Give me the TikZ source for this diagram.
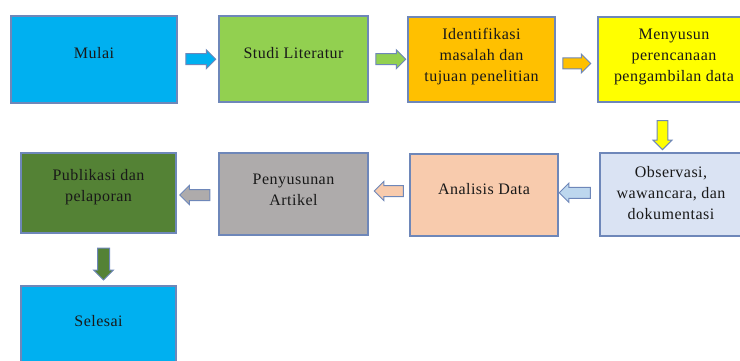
\documentclass[tikz,border=0pt]{standalone}
\usepackage{fontspec}
\setmainfont{Liberation Serif}[LetterSpace=3]
\usetikzlibrary{shapes.arrows,calc}
\definecolor{bordc}{HTML}{6E87B9}
\definecolor{cCyan}{HTML}{00B0F0}
\definecolor{cGreen}{HTML}{92D050}
\definecolor{cOrange}{HTML}{FFC000}
\definecolor{cYellow}{HTML}{FFFF00}
\definecolor{cLBlue}{HTML}{DAE3F3}
\definecolor{cLBlueA}{HTML}{BDD7EE}
\definecolor{cPeach}{HTML}{F8CBAD}
\definecolor{cGray}{HTML}{AEABAB}
\definecolor{cDGreen}{HTML}{548235}
\begin{document}
\begin{tikzpicture}[x=1pt,y=-1pt,
  box/.style={draw=bordc,line width=1.2pt,inner sep=0pt,outer sep=0pt},
  txt/.style={align=center,font=\fontsize{16}{21}\selectfont,text=black!90,inner sep=0pt},
  sarrow/.style={single arrow,draw=bordc,line width=1pt,minimum height=30pt,
    minimum width=18pt,single arrow head extend=4pt,inner sep=5pt,outer sep=0pt}]
\useasboundingbox (0,0) rectangle (740,361);
\clip (0,0) rectangle (740,361);
% boxes
\node[box,fill=cCyan,minimum width=166pt,minimum height=87pt] (m1) at (94,59.5) {};
\node[box,fill=cGreen,minimum width=149pt,minimum height=86pt] (m2) at (293.5,59) {};
\node[box,fill=cOrange,minimum width=147pt,minimum height=85pt] (m3) at (481.5,59.5) {};
\node[box,fill=cYellow,minimum width=148pt,minimum height=85pt] (m4) at (672,59.5) {};
\node[box,fill=cLBlue,minimum width=148pt,minimum height=83pt] (m5) at (674,194.5) {};
\node[box,fill=cPeach,minimum width=148pt,minimum height=82pt] (m6) at (484,195) {};
\node[box,fill=cGray,minimum width=149pt,minimum height=82pt] (m7) at (293.5,194) {};
\node[box,fill=cDGreen,minimum width=155pt,minimum height=80pt] (m8) at (98.5,193) {};
\node[box,fill=cCyan,minimum width=155pt,minimum height=88pt] (m9) at (98.5,330) {};
% texts
\node[txt] (t1) at ([yshift=6pt]m1.center) {Mulai};
\node[txt] (t2) at ([yshift=5.5pt]m2.center) {Studi Literatur};
\node[txt] (t3) at ([yshift=3pt]m3.center) {Identifikasi\\masalah dan\\tujuan penelitian};
\node[txt] (t4) at ([xshift=2pt,yshift=3pt]m4.center) {Menyusun\\perencanaan\\pengambilan data};
\node[txt] (t5) at ([xshift=-3pt,yshift=1.5pt]m5.center) {Observasi,\\wawancara, dan\\dokumentasi};
\node[txt] (t6) at ([yshift=5.5pt]m6.center) {Analisis Data};
\node[txt] (t7) at ([yshift=4.5pt]m7.center) {Penyusunan\\Artikel};
\node[txt] (t8) at ([yshift=5.5pt]m8.center) {Publikasi dan\\pelaporan};
\node[txt] (t9) at ([yshift=8.5pt]m9.center) {Selesai};
% block arrows
\node[sarrow,fill=cCyan] (a1) at ($(m1.east)!0.5!(m2.west)$) {};
\node[sarrow,fill=cGreen] (a2) at ($(m2.east)!0.5!(m3.west)$) {};
\node[sarrow,fill=cOrange,minimum height=28pt] (a3) at ([xshift=-2.5pt,yshift=-4pt]$(m3.east)!0.5!(m4.west)$) {};
\node[sarrow,fill=cYellow,shape border rotate=270,minimum height=29pt,minimum width=19pt,inner sep=4.5pt] (a4) at ([xshift=-10.5pt,yshift=-5pt]$(m4.south)!0.5!(m5.north)$) {};
\node[sarrow,fill=cLBlueA,shape border rotate=180,minimum height=31pt] (a5) at ([xshift=-1.5pt,yshift=2pt]$(m5.west)!0.5!(m6.east)$) {};
\node[sarrow,fill=cPeach,shape border rotate=180,minimum height=29pt] (a6) at ([xshift=2.5pt,yshift=3.5pt]$(m6.west)!0.5!(m7.east)$) {};
\node[sarrow,fill=cGray,shape border rotate=180] (a7) at ([yshift=-1.5pt]$(m7.west)!0.5!(m8.east)$) {};
\node[sarrow,fill=cDGreen,shape border rotate=270,minimum height=32pt,minimum width=19pt,inner sep=5.5pt] (a8) at ([xshift=5pt,yshift=-1.5pt]$(m8.south)!0.5!(m9.north)$) {};
\end{tikzpicture}
\end{document}
